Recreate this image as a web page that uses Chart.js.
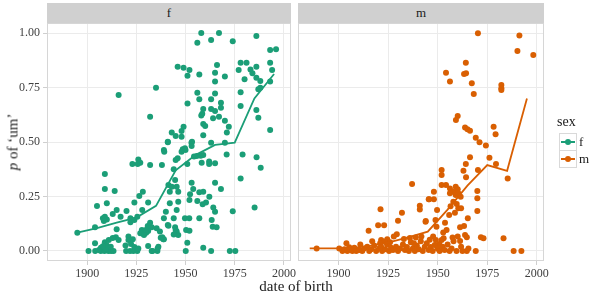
<!DOCTYPE html>
<html lang="en">
<head>
<meta charset="UTF-8">
<title>p of um by date of birth</title>
<script src="https://cdn.jsdelivr.net/npm/chart.js"></script>
<style>
    body {
        margin: 0;
        width: 591px;
        height: 294px;
        background: #fff;
        position: relative;
        overflow: hidden;
        font-family: "Liberation Serif", "DejaVu Serif", serif;
        color: #1a1a1a;
    }
    canvas { position: absolute; top: 0; }
    #leftCanvas { left: 0; }
    #rightCanvas { left: 292px; }
    .strip {
        position: absolute;
        top: 3px;
        height: 20px;
        background: #d0d0d0;
        font-size: 13px;
        line-height: 20px;
        text-align: center;
        color: #1a1a1a;
    }
    #yTitle {
        position: absolute;
        left: 13px;
        top: 142px;
        transform: translate(-50%, -50%) rotate(-90deg);
        font-size: 15px;
        white-space: nowrap;
    }
    #xTitle {
        position: absolute;
        left: 296px;
        top: 278px;
        transform: translateX(-50%);
        font-size: 15px;
        white-space: nowrap;
    }
    #legend { position: absolute; left: 557px; top: 114px; }
    #legend .title { font-size: 14px; margin-bottom: 3px; }
    .key { position: relative; height: 17px; }
    .key .box {
        position: absolute; left: 2px; top: 0; width: 16px; height: 16px;
        border: 1px solid #d9d9d9; background: #fff;
    }
    .key .ln { position: absolute; left: 1px; right: 1px; top: 7px; height: 2px; }
    .key .dot { position: absolute; left: 5px; top: 5px; width: 6px; height: 6px; border-radius: 50%; }
    .key .lab { position: absolute; left: 22px; top: 0; font-size: 13px; line-height: 17px; }
</style>
</head>
<body>
<canvas id="leftCanvas" width="300" height="294"></canvas>
<canvas id="rightCanvas" width="260" height="294"></canvas>
<div class="strip" style="left:47px;width:244px;">f</div>
<div class="strip" style="left:298px;width:246px;">m</div>
<div id="yTitle"><i>p</i> of ‘um’</div>
<div id="xTitle">date of birth</div>
<div id="legend">
    <div class="title">sex</div>
    <div class="key"><div class="box"><div class="ln" style="background:#1b9e77"></div><div class="dot" style="background:#1b9e77"></div></div><div class="lab">f</div></div>
    <div class="key"><div class="box"><div class="ln" style="background:#d95f02"></div><div class="dot" style="background:#d95f02"></div></div><div class="lab">m</div></div>
</div>

<script>
// axis ticks
const xTickVals = [1900, 1925, 1950, 1975, 2000];
const yTickVals = [0, 0.25, 0.5, 0.75, 1];

// female: birth year and share of 'um'
const fBirth = [
    1916, 1935, 1932, 1946, 1949, 1952, 1951, 1957, 1956, 1958, 1963, 1967, 1974, 1986, 1993, 1996,
    1966, 1965, 1965, 1970, 1977, 1978, 1981, 1983, 1984, 1980, 1986, 1986, 1988, 1988, 1987, 1993,
    1994, 1993, 1993, 1978, 1978, 1986, 1987, 1956, 1957, 1959, 1958.5, 1958, 1963, 1965, 1963, 1965,
    1968, 1968, 1964, 1967, 1970, 1972, 1971, 1970, 1959, 1960, 1959, 1963, 1951, 1949, 1948, 1943,
    1945, 1948, 1953, 1941,
    1895, 1904, 1909, 1909, 1914, 1905, 1910, 1915, 1913, 1917, 1920, 1908, 1909, 1910, 1908.5, 1915,
    1922, 1922, 1924, 1925.5, 1928, 1924, 1926.5, 1928.3, 1931, 1923, 1926, 1927, 1925.7, 1932, 1938, 1939,
    1939.2, 1941, 1944, 1945, 1946, 1948, 1950, 1941.3, 1943, 1942, 1944.7, 1945.5, 1946.3, 1942, 1946.3, 1945.5,
    1940, 1939, 1944, 1941.3, 1944.7, 1945.5, 1946.3, 1935.3, 1932.8, 1931, 1937, 1938.2, 1939, 1927.8, 1928.6, 1930,
    1927, 1930.8, 1932, 1921, 1921, 1922.3, 1923.2, 1914.6, 1916, 1931, 1932.8, 1935.7, 1935.8,
    1900.7, 1904, 1904.1, 1906.9, 1908.8, 1910.8, 1912.2, 1913.4, 1907, 1909, 1910, 1911, 1909.5, 1912, 1913, 1906,
    1908, 1919.8, 1921.8, 1923.5, 1925.5, 1919.5, 1924, 1926, 1933.2, 1936.2, 1950.1, 1963, 1972.5, 1975.3, 1959, 1950.9,
    1950.3, 1952, 1949.7, 1951.9, 1957, 1963.3, 1963.8, 1965.8, 1964.1, 1965, 1958.7, 1960.4, 1962.1, 1956, 1952.3, 1952,
    1957, 1959, 1953.1, 1953.9, 1965, 1968, 1954.3, 1955.7, 1957.7, 1959, 1958.2, 1962, 1962, 1965, 1950.9, 1953.3,
    1953.1, 1948.6, 1949.7, 1970.9, 1979, 1986.1, 1988.2, 1978, 1985.1, 1974,
    1941, 1945, 1944, 1938.7, 1937.4, 1929.8, 1928.9
];
const fProb = [
    0.716, 0.749, 0.616, 0.845, 0.841, 0.83, 0.804, 0.81, 0.955, 1.0, 0.968, 1.0, 0.962, 0.986, 0.922, 0.925,
    0.853, 0.818, 0.777, 0.80, 0.83, 0.864, 0.864, 0.833, 0.815, 0.788, 0.845, 0.795, 0.78, 0.749, 0.742, 0.864,
    0.83, 0.777, 0.555, 0.728, 0.665, 0.647, 0.611, 0.726, 0.696, 0.651, 0.63, 0.622, 0.696, 0.723, 0.651, 0.642,
    0.68, 0.657, 0.609, 0.616, 0.598, 0.57, 0.544, 0.497, 0.583, 0.573, 0.531, 0.497, 0.677, 0.57, 0.55, 0.544,
    0.527, 0.524, 0.497, 0.499,
    0.084, 0.109, 0.353, 0.284, 0.275, 0.206, 0.219, 0.188, 0.17, 0.157, 0.183, 0.15, 0.157, 0.145, 0.138, 0.1,
    0.15, 0.132, 0.142, 0.157, 0.188, 0.222, 0.252, 0.272, 0.222, 0.399, 0.42, 0.405, 0.399, 0.394, 0.394, 0.463,
    0.455, 0.501, 0.375, 0.417, 0.425, 0.455, 0.463, 0.303, 0.295, 0.272, 0.326, 0.295, 0.272, 0.219, 0.226, 0.188,
    0.18, 0.15, 0.15, 0.116, 0.109, 0.089, 0.073, 0.104, 0.109, 0.092, 0.089, 0.063, 0.054, 0.096, 0.078, 0.084,
    0.081, 0.115, 0.13, 0.066, 0.05, 0.032, 0.054, 0.063, 0.05, 0.023, 0, 0, 0.012,
    0, 0.035, 0, 0, 0, 0, 0, 0, 0.015, 0.04, 0.025, 0.05, 0.012, 0.02, 0.06, 0.005,
    0.022, 0, 0, 0, 0, 0.025, 0.018, 0.012, 0, 0.02, 0, 0, 0, 0, 0.015, 0.038,
    0.096, 0.093, 0.15, 0.15, 0.15, 0.142, 0.111, 0.109, 0.199, 0.18, 0.214, 0.222, 0.249, 0.229, 0.26, 0.234,
    0.269, 0.272, 0.313, 0.284, 0.313, 0.284, 0.433, 0.436, 0.437, 0.44, 0.405, 0.41, 0.399, 0.402, 0.399, 0.501,
    0.482, 0.467, 0.471, 0.443, 0.443, 0.43, 0.382, 0.333, 0.199, 0.182,
    0.119, 0.096, 0.076, 0.054, 0.061, 0.096, 0.073
];
// female: decade means
const fBinYear = [1895, 1905, 1915, 1925, 1935, 1945, 1955, 1965, 1975, 1985, 1995];
const fBinMean = [0.084, 0.105, 0.13, 0.153, 0.207, 0.37, 0.44, 0.487, 0.497, 0.70, 0.812];

// male: birth year and share of 'um'
const mBirth = [
    1970.3, 1991.2, 1990.2, 1998.2, 1964.2, 1954.2, 1963.3, 1964.3, 1956.2, 1967.2, 1968.2, 1982.1, 1982.1, 1982.1, 1960.1, 1959.2,
    1963.8, 1965, 1966.3, 1978.2, 1979.2, 1969.2, 1971.1, 1974.3,
    1976.1, 1979.4, 1985.3, 1983.2, 1988.3, 1992.2, 1966.3, 1964.2, 1963, 1964.3, 1970.3, 1970, 1970, 1970, 1971.8, 1973.1,
    1969.2, 1964.7, 1952, 1952, 1952, 1948.1, 1945.7, 1948.1, 1937.1, 1941, 1941, 1944, 1948.9, 1949.4, 1953.7, 1954.5,
    1952.8, 1956.2, 1957.9, 1959.1, 1960.4, 1959.6, 1960.4, 1961.8, 1957.9, 1956.5, 1954.2, 1956.2, 1959.1, 1960.1, 1961.6, 1965.2,
    1963.8, 1963.3, 1961.3, 1960.1, 1961.3, 1961.8, 1955.8, 1958.7, 1964.7, 1965.5, 1949.7, 1947.7, 1949.1, 1952, 1950.8,
    1932, 1930, 1929.4, 1921.2, 1920, 1923, 1915.2, 1927.9, 1924.6, 1921.5, 1923.2, 1921, 1943.9, 1945.5, 1904, 1905.4,
    1889, 1900.4,
    1902, 1903, 1904.5, 1906, 1907, 1908, 1909, 1910.5, 1912, 1913, 1914.5, 1915.5, 1916.5, 1918, 1919, 1920.5,
    1921.5, 1922, 1923.5, 1924.5, 1925.5, 1926.5, 1927.5, 1929, 1930, 1931, 1932.5, 1933.5, 1934.5, 1935.5, 1936.5, 1937.5,
    1938.5, 1939.5, 1940.5, 1941.5, 1942.5, 1943.5, 1944.5, 1945.5, 1946.5, 1947.5, 1948.5, 1950, 1951, 1952.5, 1953.5, 1955,
    1956, 1957, 1958, 1959.5, 1962.5, 1933, 1936, 1939, 1941.8, 1946, 1953, 1957.5, 1938, 1926, 1917, 1911
];
const mProb = [
    0.999, 0.988, 0.917, 0.899, 0.864, 0.818, 0.812, 0.815, 0.778, 0.769, 0.72, 0.761, 0.746, 0.739, 0.619, 0.601,
    0.567, 0.558, 0.552, 0.57, 0.535, 0.52, 0.499, 0.484,
    0.428, 0.399, 0.333, 0.058, 0, 0, 0.43, 0.399, 0.368, 0.338, 0.372, 0.275, 0.242, 0.183, 0.063, 0.058,
    0, 0, 0.372, 0.349, 0.303, 0.272, 0.237, 0.237, 0.307, 0.208, 0.19, 0.138, 0.142, 0.111, 0.13, 0.096,
    0.085, 0.287, 0.272, 0.257, 0.265, 0.216, 0.196, 0.196, 0.226, 0.205, 0.303, 0.265, 0.295, 0.283, 0.249, 0.15,
    0.073, 0.115, 0.109, 0.066, 0.046, 0.02, 0.165, 0.176, 0.063, 0.012, 0.188, 0.066, 0.05, 0.05, 0.032,
    0.176, 0.139, 0.077, 0.191, 0.118, 0.118, 0.093, 0.066, 0.054, 0.05, 0.043, 0.035, 0.134, 0.237, 0.035, 0.017,
    0.012, 0.012,
    0, 0.008, 0, 0.01, 0, 0.015, 0, 0.005, 0, 0.012, 0.02, 0, 0.008, 0.025, 0, 0.012,
    0.02, 0, 0.008, 0.03, 0, 0.015, 0.005, 0.02, 0, 0.012, 0.03, 0.005, 0.018, 0, 0.04, 0.012,
    0, 0.025, 0.008, 0.045, 0, 0.02, 0.035, 0.005, 0.018, 0, 0.028, 0.01, 0, 0.02, 0.004, 0.03,
    0, 0.012, 0.045, 0, 0, 0.055, 0.06, 0.062, 0.066, 0.052, 0.058, 0.062, 0.035, 0.04, 0.045, 0.03
];
// male: decade means
const mBinYear = [1885.5, 1905, 1915, 1925, 1935, 1945, 1955, 1965, 1975, 1985, 1995];
const mBinMean = [0.012, 0.012, 0.022, 0.038, 0.063, 0.089, 0.19, 0.30, 0.394, 0.368, 0.70];

const fColor = '#1b9e77';
const mColor = '#d95f02';

const panelBorder = {
    id: 'panelBorder',
    afterDraw(chart) {
        const a = chart.chartArea, c = chart.ctx;
        c.save();
        c.strokeStyle = '#d6d6d6';
        c.lineWidth = 1;
        c.strokeRect(a.left + 0.5, a.top + 0.5, a.right - a.left - 1, a.bottom - a.top - 1);
        c.restore();
    }
};

function pts(xs, ys) {
    return xs.map((x, i) => ({ x: x, y: ys[i] }));
}

function drawPanel(id, xs, ys, binX, binY, color, first, padRight) {
    const tickFont = { family: '"Liberation Serif", serif', size: 12 };
    new Chart(document.getElementById(id), {
        type: 'scatter',
        data: {
            datasets: [
                {
                    data: pts(binX, binY), showLine: true, borderColor: color, borderWidth: 1.8,
                    pointRadius: 0, order: 0
                },
                {
                    data: pts(xs, ys), backgroundColor: color, borderWidth: 0,
                    pointRadius: 3, order: 1
                }
            ]
        },
        options: {
            responsive: false,
            animation: false,
            devicePixelRatio: 1,
            layout: { padding: { top: 23, right: padRight, left: 0, bottom: 0 } },
            plugins: { legend: { display: false }, tooltip: { enabled: false } },
            scales: {
                x: {
                    type: 'linear', min: 1879.6, max: 2003.6,
                    afterBuildTicks: s => { s.ticks = xTickVals.map(v => ({ value: v })); },
                    afterFit: s => { s.height = 33; s.paddingLeft = 0; s.paddingRight = 0; },
                    ticks: { font: tickFont, color: '#404040', padding: 2, callback: v => String(v) },
                    grid: { color: '#ebebeb', tickColor: '#cfcfcf', tickLength: 4 },
                    border: { display: false }
                },
                y: {
                    min: -0.0459, max: 1.0459,
                    afterBuildTicks: s => { s.ticks = yTickVals.map(v => ({ value: v })); },
                    afterFit: s => { s.width = first ? 47 : 6; s.paddingTop = 0; s.paddingBottom = 0; },
                    ticks: { display: first, font: tickFont, color: '#404040', padding: 3,
                             callback: v => v.toFixed(2) },
                    grid: { color: '#ebebeb', tickColor: '#cfcfcf', tickLength: 4, drawTicks: first },
                    border: { display: false }
                }
            }
        },
        plugins: [panelBorder]
    });
}

drawPanel('leftCanvas', fBirth, fProb, fBinYear, fBinMean, fColor, true, 9);
drawPanel('rightCanvas', mBirth, mProb, mBinYear, mBinMean, mColor, false, 8);
</script>
</body>
</html>
